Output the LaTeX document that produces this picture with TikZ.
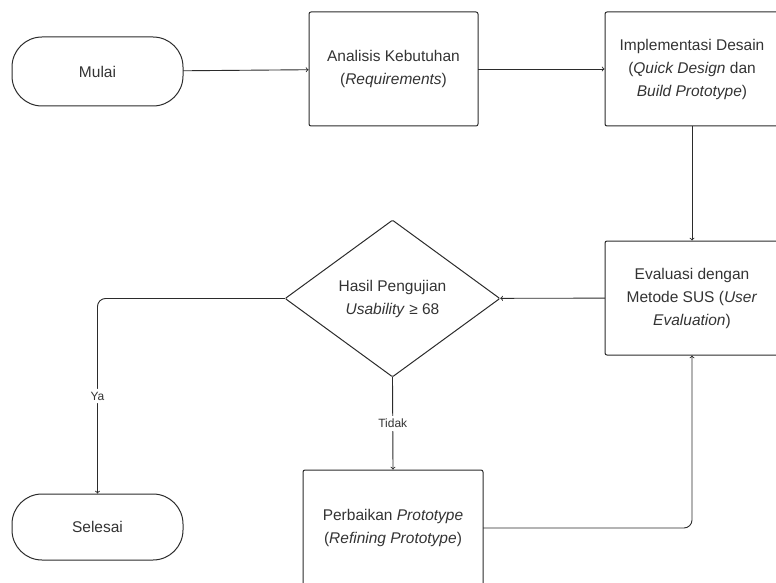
\documentclass[tikz,border=0pt]{standalone}
\usepackage{fontspec}
\setmainfont{Liberation Sans}
\usepackage{tikz}
\usetikzlibrary{shapes.geometric}
\usetikzlibrary{arrows}

\begin{document}
\begin{tikzpicture}[x=1pt,y=-1pt,line cap=rect,>=to,
	flowbox/.style={draw=custcol_2b_2b_2b, line width=1.0pt, rounded corners=2pt, inner sep=0, align=center, text=custcol_33_33_33, font=\fontsize{15.5pt}{23pt}\selectfont},
	flowend/.style={flowbox, rounded corners=30pt},
	flowask/.style={flowbox, shape=diamond, rounded corners=1pt},
	flowline/.style={draw=custcol_2b_2b_2b, line width=0.9pt, ->},
	flowlbl/.style={fill=white, inner sep=3pt, text=custcol_33_33_33, font=\fontsize{12pt}{14pt}\selectfont}]
					\definecolor{custcol_2b_2b_2b}{RGB}{43, 43, 43}
					\definecolor{custcol_33_33_33}{RGB}{51, 51, 51}
					\useasboundingbox (0.0,0.0) rectangle (776.0,583.0);
					\node[flowend, minimum width=171, minimum height=69] (mulai) at (97.5,71.5) {Mulai};
					\node[flowbox, minimum width=169, minimum height=114] (analisis) at (393.5,69.0) {Analisis Kebutuhan\\(\textit{Requirements})};
					\node[flowbox, minimum width=174, minimum height=114] (desain) at (692.0,69.0) {Implementasi Desain\\(\textit{Quick Design} dan\\\textit{Build Prototype})};
					\node[flowbox, minimum width=174, minimum height=114] (evaluasi) at (692.0,298.0) {Evaluasi dengan\\Metode SUS (\textit{User}\\\textit{Evaluation})};
					\node[flowask, minimum width=215, minimum height=157] (uji) at (392.5,298.5) {Hasil Pengujian\\\textit{Usability} ≥ 68};
					\node[flowbox, minimum width=180, minimum height=116] (perbaikan) at (393.0,528.0) {Perbaikan \textit{Prototype}\\(\textit{Refining Prototype})};
					\node[flowend, minimum width=171, minimum height=66] (selesai) at (97.5,527.0) {Selesai};
					\draw[flowline] (mulai) -- (analisis);
					\draw[flowline] (analisis) -- (desain);
					\draw[flowline] (desain) -- (evaluasi);
					\draw[flowline] (evaluasi) -- (uji);
					\draw[flowline, rounded corners=8pt] (uji.west) -| node[flowlbl, pos=0.75] (ya) {Ya} (selesai.north);
					\draw[flowline] (uji.south) -- node[flowlbl] (tidak) {Tidak} (perbaikan.north);
					\draw[flowline, rounded corners=8pt] (perbaikan.east) -| (evaluasi.south);
				\end{tikzpicture}
\end{document}
